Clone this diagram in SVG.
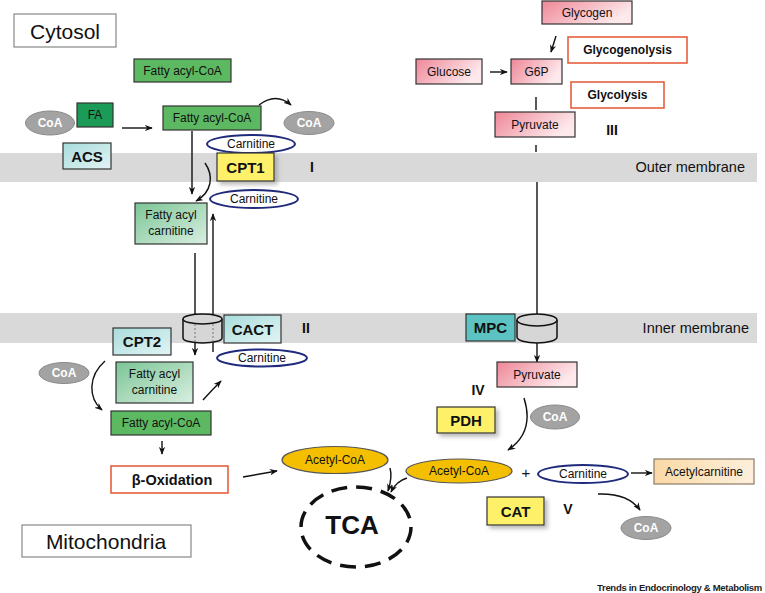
<svg xmlns="http://www.w3.org/2000/svg" width="765" height="593" viewBox="0 0 765 593">
<style>
text{font-family:"Liberation Sans",Arial,sans-serif;fill:#111;text-anchor:middle;dominant-baseline:central}
.lbl{font-size:12px}
.big{font-size:21px}
.mem{font-size:14.5px;text-anchor:end}
.b{font-weight:bold;font-size:15px}
.roman{font-weight:bold;font-size:14px}
.coa{font-size:12px;font-weight:bold;fill:#fff}
.box{stroke:#333;stroke-width:1.2}
.fac{fill:#5db862}
.car{fill:#fff;stroke:#1f2a7c;stroke-width:2}
.coae{fill:#a3a3a3;stroke:#8a8a8a;stroke-width:1}
.acoa{fill:#f4bf00;stroke:#555;stroke-width:1.2}
.ora{fill:#fff;stroke:#e5603d;stroke-width:1.6}
.cyan{fill:url(#gCyan)}
.yel{fill:#fff06a;filter:url(#sh)}
.pink{fill:url(#gPink)}
.ln{fill:none;stroke:#111;stroke-width:1.4}
.cyl{fill:#d6d6d6;stroke:#111;stroke-width:1.5}
.dot{stroke:#777;stroke-width:1;stroke-dasharray:2 2}
</style>
<defs>
<marker id="ah" viewBox="0 0 10 8" refX="9" refY="4" markerWidth="8" markerHeight="6.5" orient="auto" markerUnits="userSpaceOnUse">
<path d="M0,0 L10,4 L0,8 L3,4 z" fill="#111"/>
</marker>
<linearGradient id="gCyan" x1="0" y1="0" x2="1" y2="1">
<stop offset="0" stop-color="#a9dcdc"/><stop offset="1" stop-color="#e3f4f4"/>
</linearGradient>
<linearGradient id="gPink" x1="0" y1="0" x2="1" y2="0.4">
<stop offset="0" stop-color="#ee8797"/><stop offset="1" stop-color="#fde9ec"/>
</linearGradient>
<linearGradient id="gFacar" x1="0" y1="0" x2="1" y2="1">
<stop offset="0" stop-color="#7cc596"/><stop offset="1" stop-color="#d9efe1"/>
</linearGradient>
<linearGradient id="gAcar" x1="0" y1="0" x2="1" y2="0">
<stop offset="0" stop-color="#fbd9a6"/><stop offset="1" stop-color="#fdf0dc"/>
</linearGradient>
<filter id="sh" x="-10%" y="-10%" width="130%" height="140%">
<feDropShadow dx="3" dy="3" stdDeviation="2" flood-color="#888" flood-opacity="0.6"/>
</filter>
</defs>

<g id="membranes">
<rect x="0" y="153" width="757" height="29" fill="#d9d9d9"/>
<text class="mem" x="745" y="167">Outer membrane</text>
<rect x="0" y="313" width="757" height="30" fill="#d9d9d9"/>
<text class="mem" x="749" y="328">Inner membrane</text>
</g>

<g id="cytosol"><rect x="14" y="14" width="102" height="33" fill="#fff" stroke="#888" stroke-width="1.2"/><text class="big" x="65" y="31">Cytosol</text></g>
<g id="mitochondria"><rect x="22" y="525" width="169" height="32" fill="#fff" stroke="#888" stroke-width="1.2"/><text class="big" x="106" y="541">Mitochondria</text></g>

<g id="connectors">
<line class="ln" x1="122" y1="128" x2="152" y2="128" marker-end="url(#ah)"/>
<path class="ln" d="M259,105 Q276,92 291,105" marker-end="url(#ah)"/>
<line class="ln" x1="192" y1="131" x2="192" y2="194" marker-end="url(#ah)"/>
<path class="ln" d="M205,163 C214,176 212,192 196,201" marker-end="url(#ah)"/>
<line class="ln" x1="195" y1="253" x2="195" y2="320"/>
<line class="ln" x1="195" y1="339" x2="195" y2="355" marker-end="url(#ah)"/>
<line class="ln" x1="213" y1="352" x2="213" y2="214" marker-end="url(#ah)"/>
<path class="ln" d="M105,361 C88,376 88,398 102,410" marker-end="url(#ah)"/>
<path class="ln" d="M203,400 Q212,390 221,381" marker-end="url(#ah)"/>
<line class="ln" x1="162" y1="441" x2="162" y2="454" marker-end="url(#ah)"/>
<line class="ln" x1="243" y1="477" x2="277" y2="471" marker-end="url(#ah)"/>
<line class="ln" x1="556" y1="36" x2="551" y2="52" marker-end="url(#ah)"/>
<line class="ln" x1="490" y1="72" x2="507" y2="72" marker-end="url(#ah)"/>
<line class="ln" x1="536" y1="97" x2="536" y2="110"/>
<line class="ln" x1="536" y1="145" x2="536" y2="152"/>
<line class="ln" x1="537" y1="182" x2="537" y2="320"/>
<line class="ln" x1="537" y1="340" x2="537" y2="362" marker-end="url(#ah)"/>
<path class="ln" d="M524,398 C531,420 526,438 508,450" marker-end="url(#ah)"/>
<path class="ln" d="M390,468 C392,475 391,482 388,491" marker-end="url(#ah)"/>
<path class="ln" d="M407,478 C400,480 395,484 391,492" marker-end="url(#ah)"/>
<line class="ln" x1="631" y1="473" x2="652" y2="473" marker-end="url(#ah)"/>
<path class="ln" d="M598,494 Q628,493 640,510" marker-end="url(#ah)"/>
</g>

<g id="cact-transporter">
<path class="cyl" d="M183,319 L183,338 A19.5,5 0 0 0 222,338 L222,319"/>
<ellipse class="cyl" cx="202.5" cy="319" rx="19.5" ry="5"/>
<line class="dot" x1="195" y1="324" x2="195" y2="343"/>
<line class="dot" x1="213" y1="324" x2="213" y2="343"/>
</g>
<g id="mpc-transporter">
<path class="cyl" d="M517,320 L517,337 A20,6 0 0 0 557,337 L557,320"/>
<ellipse class="cyl" cx="537" cy="320" rx="20" ry="6"/>
</g>

<g id="fatty-acyl-coa-top"><rect class="box fac" x="134" y="59" width="97" height="23"/><text class="lbl" x="182.5" y="70.5">Fatty acyl-CoA</text></g>
<g id="fa"><rect class="box" x="77" y="103" width="36" height="24" fill="#1c9a58"/><text class="lbl" x="95" y="115">FA</text></g>
<g id="coa-1"><ellipse class="coae" cx="50" cy="123" rx="24.5" ry="12"/><text class="coa" x="50" y="123">CoA</text></g>
<g id="fatty-acyl-coa-mid"><rect class="box fac" x="163" y="106" width="98" height="24"/><text class="lbl" x="212" y="118">Fatty acyl-CoA</text></g>
<g id="coa-2"><ellipse class="coae" cx="309" cy="123" rx="25" ry="11.5"/><text class="coa" x="309" y="123">CoA</text></g>
<g id="carnitine-1"><ellipse class="car" cx="251" cy="144" rx="44" ry="9"/><text class="lbl" x="251" y="144">Carnitine</text></g>
<g id="acs"><rect class="box cyan" x="63" y="143" width="48" height="26"/><text class="b" x="87" y="156">ACS</text></g>
<g id="cpt1"><rect class="box yel" x="217" y="153" width="57" height="28"/><text class="b" x="245.5" y="167">CPT1</text></g>
<g id="label-i"><text class="roman" x="312" y="167">I</text></g>
<g id="carnitine-2"><ellipse class="car" cx="254" cy="199" rx="44" ry="9"/><text class="lbl" x="254" y="199">Carnitine</text></g>
<g id="fatty-acyl-carnitine-1"><rect class="box" x="135" y="203" width="72" height="41" fill="url(#gFacar)"/><text class="lbl" x="171" y="215">Fatty acyl</text><text class="lbl" x="171" y="231">carnitine</text></g>

<g id="cact"><rect class="box cyan" x="224" y="315" width="57" height="28"/><text class="b" x="252.5" y="329">CACT</text></g>
<g id="label-ii"><text class="roman" x="306" y="328">II</text></g>
<g id="cpt2"><rect class="box cyan" x="113" y="328" width="58" height="27"/><text class="b" x="142" y="341.5">CPT2</text></g>
<g id="carnitine-3"><ellipse class="car" cx="262" cy="358" rx="45" ry="8.5"/><text class="lbl" x="262" y="358">Carnitine</text></g>
<g id="coa-3"><ellipse class="coae" cx="64" cy="373" rx="25" ry="10.5"/><text class="coa" x="64" y="373">CoA</text></g>
<g id="fatty-acyl-carnitine-2"><rect class="box" x="116" y="362" width="77" height="41" fill="url(#gFacar)"/><text class="lbl" x="154.5" y="374">Fatty acyl</text><text class="lbl" x="154.5" y="390">carnitine</text></g>
<g id="fatty-acyl-coa-bottom"><rect class="box fac" x="111" y="411" width="100" height="24"/><text class="lbl" x="161" y="423">Fatty acyl-CoA</text></g>
<g id="beta-oxidation"><rect class="ora" x="111" y="466" width="117" height="27"/><text class="b" x="172" y="479.5" style="font-size:14.5px">β-Oxidation</text></g>
<g id="acetyl-coa-1"><ellipse class="acoa" cx="335" cy="460" rx="53" ry="13.5"/><text class="lbl" x="335" y="460">Acetyl-CoA</text></g>
<g id="tca"><ellipse cx="356" cy="527" rx="55" ry="40" fill="none" stroke="#111" stroke-width="3.5" stroke-dasharray="16 9"/><text x="352" y="525" style="font-size:26px;font-weight:bold">TCA</text></g>

<g id="glycogen"><rect class="box pink" x="542" y="1" width="90" height="23"/><text class="lbl" x="587" y="12.5">Glycogen</text></g>
<g id="glycogenolysis"><rect class="ora" x="568" y="37" width="119" height="26"/><text class="lbl" x="627.5" y="50" style="font-weight:bold">Glycogenolysis</text></g>
<g id="glucose"><rect class="box pink" x="416" y="59" width="66" height="25"/><text class="lbl" x="449" y="71.5">Glucose</text></g>
<g id="g6p"><rect class="box pink" x="511" y="59" width="51" height="25"/><text class="lbl" x="536.5" y="71.5">G6P</text></g>
<g id="glycolysis"><rect class="ora" x="571" y="82" width="93" height="26"/><text class="lbl" x="617.5" y="95" style="font-weight:bold">Glycolysis</text></g>
<g id="pyruvate-1"><rect class="box pink" x="495" y="112" width="80" height="25"/><text class="lbl" x="535" y="124.5">Pyruvate</text></g>
<g id="label-iii"><text class="roman" x="612" y="130">III</text></g>

<g id="mpc"><rect class="box" x="466" y="314" width="49" height="27" fill="#5cc2c2"/><text class="b" x="490.5" y="327.5">MPC</text></g>
<g id="pyruvate-2"><rect class="box pink" x="497" y="362" width="80" height="25"/><text class="lbl" x="537" y="374.5">Pyruvate</text></g>
<g id="label-iv"><text class="roman" x="478" y="390">IV</text></g>
<g id="pdh"><rect class="box yel" x="437" y="407" width="58" height="26"/><text class="b" x="466" y="420">PDH</text></g>
<g id="coa-4"><ellipse class="coae" cx="555" cy="417" rx="24.5" ry="12"/><text class="coa" x="555" y="417">CoA</text></g>
<g id="acetyl-coa-2"><ellipse class="acoa" cx="459" cy="471" rx="53" ry="12"/><text class="lbl" x="459" y="471">Acetyl-CoA</text></g>
<g id="plus"><text x="526" y="472" style="font-size:15px">+</text></g>
<g id="carnitine-4"><ellipse class="car" cx="583" cy="474" rx="45" ry="9"/><text class="lbl" x="583" y="474">Carnitine</text></g>
<g id="acetylcarnitine"><rect x="654" y="459" width="100" height="25" fill="url(#gAcar)" stroke="#8a7a66" stroke-width="1.2"/><text class="lbl" x="704" y="471.5">Acetylcarnitine</text></g>
<g id="cat"><rect class="box yel" x="487" y="497" width="57" height="28"/><text class="b" x="515.5" y="511">CAT</text></g>
<g id="label-v"><text class="roman" x="568" y="509">V</text></g>
<g id="coa-5"><ellipse class="coae" cx="646" cy="528" rx="25" ry="11.5"/><text class="coa" x="646" y="528">CoA</text></g>

<g id="credit"><text x="762" y="587" style="font-size:9.5px;font-weight:bold;text-anchor:end;letter-spacing:-0.3px;fill:#222">Trends in Endocrinology &amp; Metabolism</text></g>
</svg>
